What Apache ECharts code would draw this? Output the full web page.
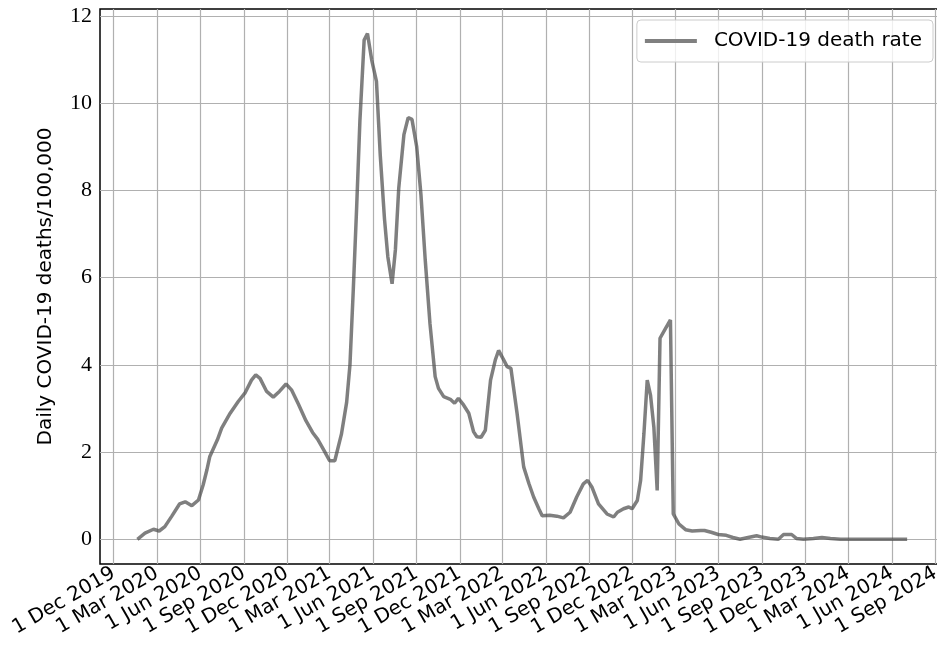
<!DOCTYPE html>
<html>
<head>
<meta charset="utf-8">
<script src="https://cdn.jsdelivr.net/npm/echarts@6/dist/echarts.min.js"></script>
<style>html,body{margin:0;padding:0;background:#fff}#c{width:937px;height:646px}</style>
</head>
<body>
<div id="c"></div>
<script>
const seriesName = 'COVID-19 death rate';
const yAxisTitle = 'Daily COVID-19 deaths/100,000';
const xTickDates = ['2019-12-01','2020-03-01','2020-06-01','2020-09-01','2020-12-01','2021-03-01','2021-06-01','2021-09-01','2021-12-01','2022-03-01','2022-06-01','2022-09-01','2022-12-01','2023-03-01','2023-06-01','2023-09-01','2023-12-01','2024-03-01','2024-06-01','2024-09-01'];
const yTicks = [0, 2, 4, 6, 8, 10, 12];
const monthNames = ['Jan','Feb','Mar','Apr','May','Jun','Jul','Aug','Sep','Oct','Nov','Dec'];
const dates = ['2020-01-20','2020-02-05','2020-02-23','2020-03-06','2020-03-18','2020-04-01','2020-04-18','2020-04-30','2020-05-14','2020-05-28','2020-06-07','2020-06-15','2020-06-21','2020-07-07','2020-07-16','2020-08-03','2020-08-20','2020-09-03','2020-09-17','2020-09-26','2020-10-05','2020-10-19','2020-11-02','2020-11-15','2020-11-29','2020-12-11','2020-12-25','2021-01-10','2021-01-24','2021-02-04','2021-02-18','2021-03-01','2021-03-12','2021-03-26','2021-04-06','2021-04-13','2021-04-20','2021-04-27','2021-05-04','2021-05-13','2021-05-20','2021-05-29','2021-06-08','2021-06-16','2021-06-25','2021-07-02','2021-07-11','2021-07-18','2021-07-25','2021-08-05','2021-08-14','2021-08-22','2021-09-01','2021-09-10','2021-09-19','2021-09-29','2021-10-10','2021-10-17','2021-10-28','2021-11-11','2021-11-20','2021-11-28','2021-12-09','2021-12-20','2021-12-30','2022-01-06','2022-01-15','2022-01-24','2022-02-04','2022-02-14','2022-02-21','2022-03-04','2022-03-11','2022-03-19','2022-04-01','2022-04-15','2022-04-26','2022-05-06','2022-05-17','2022-05-24','2022-06-09','2022-06-24','2022-07-08','2022-07-22','2022-08-05','2022-08-19','2022-08-28','2022-09-06','2022-09-20','2022-10-08','2022-10-22','2022-10-30','2022-11-12','2022-11-23','2022-11-30','2022-12-11','2022-12-18','2022-12-25','2023-01-01','2023-01-08','2023-01-15','2023-01-22','2023-01-28','2023-02-09','2023-02-19','2023-02-25','2023-03-09','2023-03-23','2023-04-06','2023-04-24','2023-05-02','2023-05-16','2023-05-31','2023-06-17','2023-07-01','2023-07-16','2023-08-02','2023-08-20','2023-08-31','2023-09-17','2023-10-05','2023-10-16','2023-11-02','2023-11-12','2023-11-27','2023-12-18','2024-01-05','2024-01-23','2024-02-13','2024-03-19','2024-04-28','2024-07-03'];
const rates = [0.0,0.14,0.23,0.19,0.29,0.52,0.81,0.86,0.77,0.90,1.25,1.6,1.9,2.28,2.55,2.89,3.16,3.35,3.65,3.77,3.69,3.39,3.26,3.39,3.56,3.42,3.1,2.72,2.45,2.29,2.02,1.8,1.8,2.41,3.14,4.0,5.71,7.57,9.59,11.45,11.6,10.99,10.5,8.81,7.34,6.48,5.86,6.64,8.04,9.28,9.67,9.63,9.0,7.9,6.41,4.95,3.73,3.46,3.27,3.21,3.12,3.23,3.08,2.89,2.47,2.35,2.34,2.5,3.65,4.11,4.33,4.11,3.96,3.92,2.89,1.66,1.28,0.97,0.70,0.54,0.55,0.53,0.49,0.62,0.97,1.27,1.35,1.20,0.81,0.58,0.51,0.62,0.70,0.74,0.70,0.89,1.35,2.42,3.65,3.30,2.57,1.12,4.61,4.84,5.03,0.58,0.35,0.22,0.19,0.2,0.2,0.16,0.11,0.09,0.04,0.0,0.04,0.08,0.05,0.02,0.0,0.11,0.11,0.02,0.0,0.02,0.04,0.02,0.0,0.0,0.0,0.0];
const xRange = ['2019-11-02', '2024-09-21'];
const yRange = [-0.567, 12.16];

function ts(s) { const p = s.split('-').map(Number); return new Date(p[0], p[1] - 1, p[2]).getTime(); }
const xTicks = xTickDates.map(ts);

const chart = echarts.init(document.getElementById('c'), null, { renderer: 'canvas' });
chart.setOption({
  animation: false,
  backgroundColor: '#fff',
  grid: { left: 100, width: 845, top: 9, bottom: 82, outerBoundsMode: 'none', show: true, borderColor: '#000', borderWidth: 1.5, backgroundColor: 'transparent', containLabel: false },
  legend: {
    data: [seriesName], right: 4, top: 20, orient: 'horizontal',
    icon: 'rect', itemWidth: 52, itemHeight: 4,
    backgroundColor: 'rgba(255,255,255,0.8)', borderColor: '#cccccc', borderWidth: 1, borderRadius: 4,
    padding: [11, 11, 11, 8],
    textStyle: { fontFamily: 'DejaVu Sans', fontSize: 20, color: '#000', padding: [0, 0, 0, 12] }
  },
  xAxis: {
    type: 'value', min: ts(xRange[0]), max: ts(xRange[1]),
    axisLine: { show: false },
    axisTick: { show: false, customValues: xTicks },
    splitLine: { show: true, lineStyle: { color: '#b0b0b0', width: 1.2 } },
    axisLabel: {
      customValues: xTicks, rotate: 30, margin: 8,
      fontFamily: 'DejaVu Sans', fontSize: 20, color: '#000', hideOverlap: false,
      formatter: function (v) { const d = new Date(v); return d.getDate() + ' ' + monthNames[d.getMonth()] + ' ' + d.getFullYear(); }
    }
  },
  yAxis: {
    type: 'value', min: yRange[0], max: yRange[1],
    name: yAxisTitle, nameLocation: 'middle', nameGap: 44, nameRotate: 90,
    nameTextStyle: { fontFamily: 'DejaVu Sans', fontSize: 20, color: '#000' },
    axisLine: { show: false },
    axisTick: { show: false, customValues: yTicks },
    splitLine: { show: true, lineStyle: { color: '#b0b0b0', width: 1.2 } },
    axisLabel: { customValues: yTicks, margin: 8, fontFamily: 'Liberation Serif', fontSize: 22, color: '#000' }
  },
  series: [{
    name: seriesName, type: 'line', showSymbol: false, symbol: 'none',
    data: dates.map((d, i) => [ts(d), rates[i]]),
    lineStyle: { color: '#4d4d4d', width: 3.5, opacity: 0.72 },
    itemStyle: { color: '#808080' },
    z: 3
  }]
});
</script>
</body>
</html>
